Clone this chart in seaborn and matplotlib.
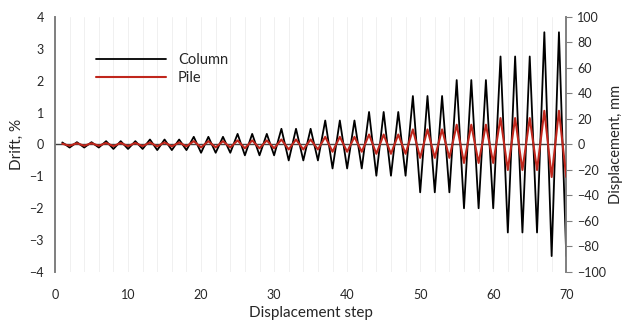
import matplotlib
matplotlib.use('Agg')
import matplotlib.pyplot as plt
from matplotlib.ticker import MultipleLocator
import seaborn as sns
import pandas as pd

# Data (displacement in mm, drift % = mm / 25)
steps = list(range(1, 71))
column_mm = [
    1.6, -2.4, 1.8, -2.4, 1.8, -2.4,
    2.6, -3.5, 2.6, -3.5, 2.6, -3.5,
    3.9, -4.4, 3.9, -4.4, 3.9, -4.4,
    6.0, -6.5, 6.0, -6.5, 6.0, -6.5,
    8.3, -8.5, 8.3, -8.5, 8.3, -8.5,
    12.3, -12.5, 12.3, -12.5, 12.3, -12.5,
    18.8, -18.8, 18.8, -18.8, 18.8, -18.8,
    25.5, -24.5, 25.5, -24.5, 25.5, -24.5,
    38.0, -37.5, 38.0, -37.5, 38.0, -37.5,
    50.5, -50.0, 50.5, -50.0, 50.5, -50.0,
    69.0, -69.0, 69.0, -69.0, 69.0, -69.0,
    88.0, -87.5, 88.0, -87.5,
]
pile_mm = [
    0.6, -1.0, 1.0, -1.0, 1.0, -1.0,
    1.2, -1.3, 1.2, -1.3, 1.2, -1.3,
    1.6, -1.5, 1.6, -1.5, 1.6, -1.5,
    2.6, -2.3, 2.6, -2.3, 2.6, -2.3,
    3.2, -3.0, 3.2, -3.0, 3.2, -3.0,
    3.9, -3.9, 3.9, -3.9, 3.9, -3.9,
    6.0, -5.7, 6.0, -5.7, 6.0, -5.7,
    7.8, -7.3, 7.8, -7.3, 7.8, -7.3,
    11.8, -10.5, 11.8, -10.5, 11.8, -10.5,
    15.5, -14.5, 15.5, -14.5, 15.5, -14.5,
    20.7, -20.0, 20.7, -20.0, 20.7, -20.0,
    26.4, -25.5, 26.4, -25.5,
]
drift_ticks = [-4, -3, -2, -1, 0, 1, 2, 3, 4]
disp_ticks = [-100, -80, -60, -40, -20, 0, 20, 40, 60, 80, 100]
x_ticks = [0, 10, 20, 30, 40, 50, 60, 70]

df = pd.DataFrame({'step': steps, 'Column': column_mm, 'Pile': pile_mm})

sns.set_theme(style='white')
plt.rcParams['font.family'] = ['Lato', 'DejaVu Sans']

fig = plt.figure(figsize=(6.25, 3.2), dpi=100)
ax = fig.add_axes([0.088, 0.15, 0.818, 0.797])
ax2 = ax.twinx()

# vertical grid every 2 steps
ax.set_xlim(0, 70)
ax.set_xticks(x_ticks)
ax.xaxis.set_minor_locator(MultipleLocator(2))
ax.grid(which='both', axis='x', color='#f0f0f0', linewidth=0.7)
ax.grid(axis='y', visible=False)
ax.tick_params(axis='x', which='both', length=0, labelsize=9, pad=12)

ax.set_ylim(-4, 4)
ax.set_yticks(drift_ticks)
ax.tick_params(axis='y', length=0, labelsize=9, pad=8)
ax.set_ylabel('Drift, %', fontsize=11, labelpad=4)
ax.set_xlabel('Displacement step', fontsize=11, labelpad=4)

ax2.axhline(0, color='#404040', linewidth=1.0, zorder=1)
sns.lineplot(data=df, x='step', y='Column', ax=ax2, color='black', linewidth=1.3, label='Column', zorder=2)
sns.lineplot(data=df, x='step', y='Pile', ax=ax2, color='#c0261c', linewidth=1.5, label='Pile', zorder=3)
ax2.set_ylim(-100, 100)
ax2.set_yticks(disp_ticks)
ax2.tick_params(axis='y', direction='out', length=4, width=0.8, color='#808080', labelsize=9, pad=4)
ax2.set_ylabel('Displacement, mm', fontsize=10.5, labelpad=2)
ax2.set_xlabel('')

for a in (ax, ax2):
    a.spines['top'].set_visible(False)
    a.spines['bottom'].set_visible(False)
    a.spines['left'].set_color('#808080')
    a.spines['right'].set_color('#808080')

ax2.legend(loc='upper left', bbox_to_anchor=(0.055, 0.91), frameon=False,
           handlelength=4.8, fontsize=10.5, labelspacing=0.25, handletextpad=0.8)

fig.savefig('out.png', dpi=100)
